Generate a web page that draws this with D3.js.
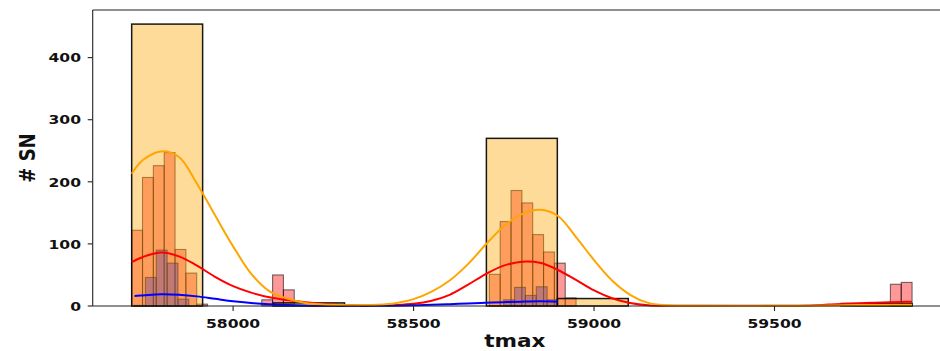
<!DOCTYPE html>
<html>
<head>
<meta charset="utf-8">
<script src="https://cdn.jsdelivr.net/npm/d3@7"></script>
<style>
  html, body { margin: 0; padding: 0; background: #ffffff; }
  svg { display: block; }
  text { font-family: "DejaVu Sans", sans-serif; font-weight: bold; fill: #111; }
</style>
</head>
<body>
<svg id="chart" width="940" height="351"></svg>
<script>
// ---- histogram counts (each series has its own equal-width bins) ----
const orangeStart = 57719, orangeWidth = 196.55;
const orangeCounts = [454, 0, 5, 0, 0, 270, 12, 0, 0, 0, 4];

const redStart = 57719, redWidth = 30.03;
const redCounts = [
  122, 207, 226, 247, 91, 53, 3,
  0, 0, 0, 0, 0,
  10, 50, 26,
  0, 0, 0, 0, 0, 0, 0, 0, 0, 0, 0, 0, 0, 0, 0, 0, 0, 0,
  51, 136, 186, 166, 115, 87, 69, 13,
  0, 0, 0, 0, 0, 0, 0, 0, 0, 0, 0, 0, 0, 0, 0, 0, 0, 0, 0, 0, 0, 0, 0, 0, 0, 0, 0, 0, 0,
  35, 38
];

const blueStart = 57727, blueWidth = 30.08;
const blueCounts = [
  1, 46, 90, 69, 11,
  0, 0, 0, 0, 0, 0, 0, 0, 0, 0, 0, 0, 0, 0, 0, 0, 0, 0, 0, 0, 0, 0, 0, 0, 0, 0, 0, 0, 0,
  10, 30, 17, 31, 10
];

// ---- density curves (scaled to counts), sampled along tmax ----
const orangeKdeX = [57719, 57750, 57800, 57850, 57900, 57950, 58000, 58050, 58100, 58150, 58200, 58250, 58300, 58350, 58400, 58450, 58500, 58550, 58600, 58650, 58700, 58750, 58800, 58850, 58900, 58950, 59000, 59050, 59100, 59150, 59200, 59300, 59450, 59600, 59700, 59800, 59881];
const orangeKdeY = [213, 235, 249, 240, 197, 146, 96, 52, 24, 12, 5, 2.5, 1.5, 1.4, 2, 4.5, 11, 23, 41, 67, 99, 128.5, 148, 155, 145, 111, 74, 41, 18, 5, 1.2, 0.3, 0.2, 0.5, 1.2, 1.8, 2];

const redKdeX = [57719, 57750, 57800, 57850, 57900, 57950, 58000, 58050, 58100, 58150, 58200, 58250, 58300, 58350, 58400, 58450, 58500, 58550, 58600, 58650, 58700, 58750, 58800, 58850, 58900, 58950, 59000, 59050, 59100, 59150, 59200, 59350, 59500, 59600, 59650, 59700, 59750, 59800, 59850, 59881];
const redKdeY = [70.5, 79, 86, 80, 65, 47, 32, 21.5, 14, 9.5, 6, 3.2, 1.6, 1, 1.1, 1.6, 3.5, 8.5, 18, 34, 51.5, 65, 71.2, 69.5, 58, 42, 25, 12.5, 5, 1.2, 0.4, 0.3, 0.4, 1, 2.3, 3.5, 4.7, 5.8, 6.6, 7];

const blueKdeX = [57727, 57750, 57800, 57850, 57900, 57950, 58000, 58050, 58100, 58150, 58200, 58250, 58300, 58350, 58400, 58450, 58500, 58550, 58600, 58650, 58700, 58750, 58800, 58850, 58900];
const blueKdeY = [16.2, 17, 18.8, 18, 15.5, 11.5, 7.5, 4.8, 3, 1.7, 0.8, 0.4, 0.2, 0.2, 0.3, 0.6, 1.2, 2, 3, 4.2, 5.2, 6.1, 7, 7.5, 7];

// ---- axes ----
const xTicks = [58000, 58500, 59000, 59500];
const yTicks = [0, 100, 200, 300, 400];
const xLabel = "tmax";
const yLabel = "# SN";

const W = 940, H = 351;
const plot = { left: 92.7, right: 951, top: 10, bottom: 306 };
const svg = d3.select("#chart");
svg.append("rect").attr("width", W).attr("height", H).attr("fill", "#fff");

const x = d3.scaleLinear().domain([57611, 59989]).range([plot.left, plot.right]);
const y = d3.scaleLinear().domain([0, 476.7]).range([plot.bottom, plot.top]);

function binsOf(start, width, counts) {
  return counts.map((c, i) => ({ x0: start + i * width, x1: start + (i + 1) * width, n: c }))
               .filter(d => d.n > 0);
}

function drawBars(bins, fill, stroke, strokeOpacity, strokeWidth) {
  svg.append("g").selectAll("rect").data(bins).join("rect")
    .attr("x", d => x(d.x0))
    .attr("width", d => x(d.x1) - x(d.x0))
    .attr("y", d => y(d.n))
    .attr("height", d => y(0) - y(d.n))
    .attr("fill", fill)
    .attr("stroke", stroke)
    .attr("stroke-opacity", strokeOpacity)
    .attr("stroke-width", strokeWidth);
}

// bars, in layering order
drawBars(binsOf(redStart, redWidth, redCounts), "rgba(255,0,0,0.4)", "#000", 0.55, 1.1);
drawBars(binsOf(blueStart, blueWidth, blueCounts), "rgba(0,0,255,0.4)", "#000", 0.55, 1.1);
drawBars(binsOf(orangeStart, orangeWidth, orangeCounts), "rgba(255,165,0,0.4)", "#000", 0.9, 1.5);

// density curves
const line = d3.line().x(d => x(d[0])).y(d => y(d[1])).curve(d3.curveCatmullRom.alpha(0.5));
function drawKde(xs, ys, color) {
  svg.append("path")
    .datum(xs.map((v, i) => [v, ys[i]]))
    .attr("d", line)
    .attr("fill", "none")
    .attr("stroke", color)
    .attr("stroke-width", 2)
    .attr("stroke-linecap", "butt");
}
drawKde(redKdeX, redKdeY, "#ff0000");
drawKde(blueKdeX, blueKdeY, "#0000ff");
drawKde(orangeKdeX, orangeKdeY, "#ffa500");

// frame
const spine = "#222";
svg.append("line").attr("x1", plot.left).attr("x2", plot.right).attr("y1", plot.bottom).attr("y2", plot.bottom).attr("stroke", spine).attr("stroke-width", 1.1);
svg.append("line").attr("x1", plot.left).attr("x2", plot.right).attr("y1", plot.top).attr("y2", plot.top).attr("stroke", spine).attr("stroke-width", 1.1);
svg.append("line").attr("x1", plot.left).attr("x2", plot.left).attr("y1", plot.top).attr("y2", plot.bottom).attr("stroke", spine).attr("stroke-width", 1.1);

const sx = 1.2; // horizontal stretch of lettering
function label(txt, px, py, size, anchor, rotate) {
  return svg.append("text")
    .attr("transform", rotate ? `translate(${px},${py}) rotate(-90) scale(1,${sx})` : `translate(${px},${py}) scale(${sx},1)`)
    .attr("font-size", size)
    .attr("text-anchor", anchor)
    .text(txt);
}

// x axis ticks
xTicks.forEach(v => {
  svg.append("line").attr("x1", x(v)).attr("x2", x(v)).attr("y1", plot.bottom).attr("y2", plot.bottom + 5).attr("stroke", spine).attr("stroke-width", 1.1);
  label(d3.format("d")(v), x(v), 328, 13, "middle", false);
});
// y axis ticks
yTicks.forEach(v => {
  svg.append("line").attr("x1", plot.left - 5).attr("x2", plot.left).attr("y1", y(v)).attr("y2", y(v)).attr("stroke", spine).attr("stroke-width", 1.1);
  label(String(v), 81, y(v) + 4.7, 13, "end", false);
});

label(xLabel, (plot.left + plot.right) / 2 - 7, 347, 18, "middle", false);
label(yLabel, 35, (plot.top + plot.bottom) / 2, 18, "middle", true);
</script>
</body>
</html>
